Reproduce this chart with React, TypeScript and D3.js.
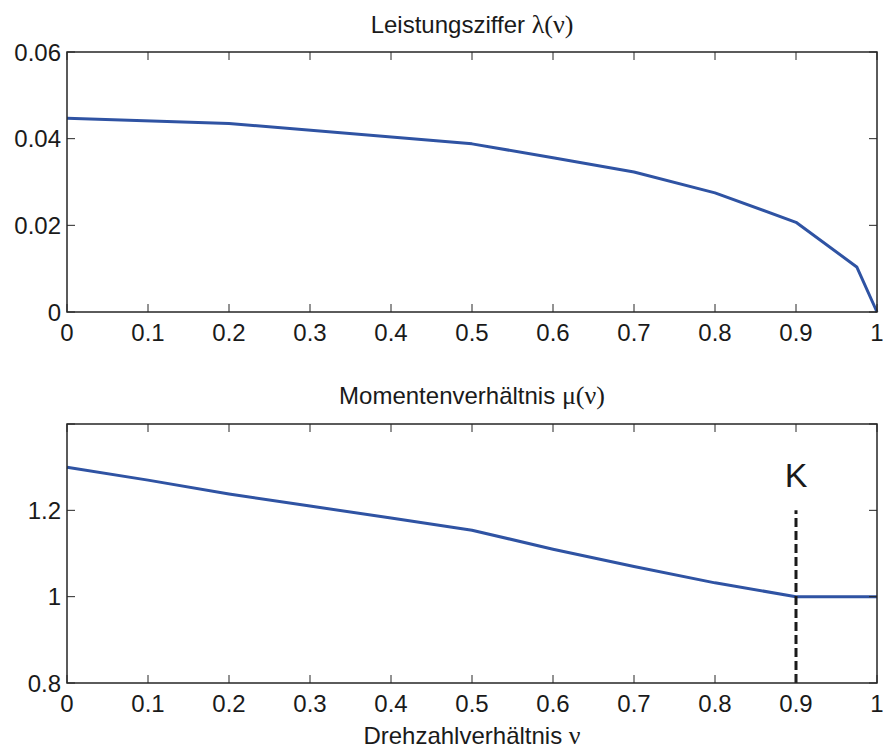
import React from "react";
import * as d3 from "d3";

const nuLambda = [0, 0.2, 0.5, 0.6, 0.7, 0.8, 0.9, 0.975, 1];
const lambdaVals = [0.0447, 0.0435, 0.0388, 0.0356, 0.0323, 0.0275, 0.0207, 0.0104, 0];
const nuMu = [0, 0.1, 0.2, 0.3, 0.4, 0.5, 0.6, 0.7, 0.8, 0.9, 1];
const muVals = [1.3, 1.27, 1.238, 1.21, 1.182, 1.154, 1.11, 1.07, 1.032, 1.0, 1.0];
const xTicks = [0, 0.1, 0.2, 0.3, 0.4, 0.5, 0.6, 0.7, 0.8, 0.9, 1];
const xTickLabels = ["0", "0.1", "0.2", "0.3", "0.4", "0.5", "0.6", "0.7", "0.8", "0.9", "1"];
const yTicksTop = [0, 0.02, 0.04, 0.06];
const yTickLabelsTop = ["0", "0.02", "0.04", "0.06"];
const yTicksBottom = [0.8, 1, 1.2, 1.4];
const yTickLabelsBottom = ["0.8", "1", "1.2", ""];
const markerNu = [0.9];
const markerMu = [0.8, 1.2];
const markerLabel = "K";

const W = 883;
const H = 749;
const L = 67;
const R = 877;
const SANS = "'Liberation Sans', Arial, Helvetica, sans-serif";
const SERIF = "'Liberation Serif', 'Times New Roman', serif";
const AX = "#262626";
const BLUE = "#2F53A3";
const FS = 24;

type PanelProps = {
  top: number;
  bottom: number;
  yDomain: [number, number];
  yTicks: number[];
  yLabels: string[];
  xs: number[];
  ys: number[];
  children?: (x: d3.ScaleLinear<number, number>, y: d3.ScaleLinear<number, number>) => React.ReactNode;
};

function Panel({ top, bottom, yDomain, yTicks, yLabels, xs, ys, children }: PanelProps) {
  const x = d3.scaleLinear().domain([0, 1]).range([L, R]);
  const y = d3.scaleLinear().domain(yDomain).range([bottom, top]);
  const line = d3
    .line<number>()
    .x((_, i) => x(xs[i]))
    .y((d) => y(d));
  const tl = 8;
  return (
    <g>
      <path d={line(ys) || ""} fill="none" stroke={BLUE} strokeWidth={3} strokeLinejoin="round" />
      {children ? children(x, y) : null}
      {xTicks.map((t, i) => (
        <g key={"xt" + i}>
          <line x1={x(t)} x2={x(t)} y1={bottom} y2={bottom - tl} stroke={AX} strokeWidth={1} />
          <line x1={x(t)} x2={x(t)} y1={top} y2={top + tl} stroke={AX} strokeWidth={1} />
          <text x={x(t)} y={bottom + 29} textAnchor="middle" fontFamily={SANS} fontSize={FS} fill="#1a1a1a">
            {xTickLabels[i]}
          </text>
        </g>
      ))}
      {yTicks.map((t, i) => (
        <g key={"yt" + i}>
          <line x1={L} x2={L + tl} y1={y(t)} y2={y(t)} stroke={AX} strokeWidth={1} />
          <line x1={R} x2={R - tl} y1={y(t)} y2={y(t)} stroke={AX} strokeWidth={1} />
          <text x={L - 6} y={y(t) + 8.5} textAnchor="end" fontFamily={SANS} fontSize={FS} fill="#1a1a1a">
            {yLabels[i]}
          </text>
        </g>
      ))}
      <rect x={L} y={top} width={R - L} height={bottom - top} fill="none" stroke={AX} strokeWidth={1.5} />
    </g>
  );
}

export default function App() {
  return (
    <svg
      width={W}
      height={H}
      viewBox={`0 0 ${W} ${H}`}
      style={{ position: "absolute", left: 0, top: 0, background: "#fff" }}
    >
      <rect x={0} y={0} width={W} height={H} fill="#fff" />
      <text x={(L + R) / 2} y={33} textAnchor="middle" fontFamily={SANS} fontSize={FS} fill="#1a1a1a">
        Leistungsziffer <tspan fontFamily={SERIF} fontSize={26}>λ(ν)</tspan>
      </text>
      <Panel
        top={52}
        bottom={312}
        yDomain={[0, 0.06]}
        yTicks={yTicksTop}
        yLabels={yTickLabelsTop}
        xs={nuLambda}
        ys={lambdaVals}
      />
      <text x={(L + R) / 2} y={404} textAnchor="middle" fontFamily={SANS} fontSize={FS} fill="#1a1a1a">
        Momentenverhältnis <tspan fontFamily={SERIF} fontSize={26}>μ(ν)</tspan>
      </text>
      <Panel
        top={424}
        bottom={683}
        yDomain={[0.8, 1.4]}
        yTicks={yTicksBottom}
        yLabels={yTickLabelsBottom}
        xs={nuMu}
        ys={muVals}
      >
        {(x, y) => (
          <g>
            <line
              x1={x(markerNu[0])}
              x2={x(markerNu[0])}
              y1={y(markerMu[0])}
              y2={y(markerMu[1])}
              stroke="#1a1a1a"
              strokeWidth={3}
              strokeDasharray="9,4"
            />
            <text
              x={x(markerNu[0])}
              y={y(markerMu[1]) - 23}
              textAnchor="middle"
              fontFamily={SANS}
              fontSize={34}
              fill="#1a1a1a"
            >
              {markerLabel}
            </text>
          </g>
        )}
      </Panel>
      <text x={(L + R) / 2} y={744} textAnchor="middle" fontFamily={SANS} fontSize={FS} fill="#1a1a1a">
        Drehzahlverhältnis <tspan fontFamily={SERIF} fontSize={26}>ν</tspan>
      </text>
    </svg>
  );
}
